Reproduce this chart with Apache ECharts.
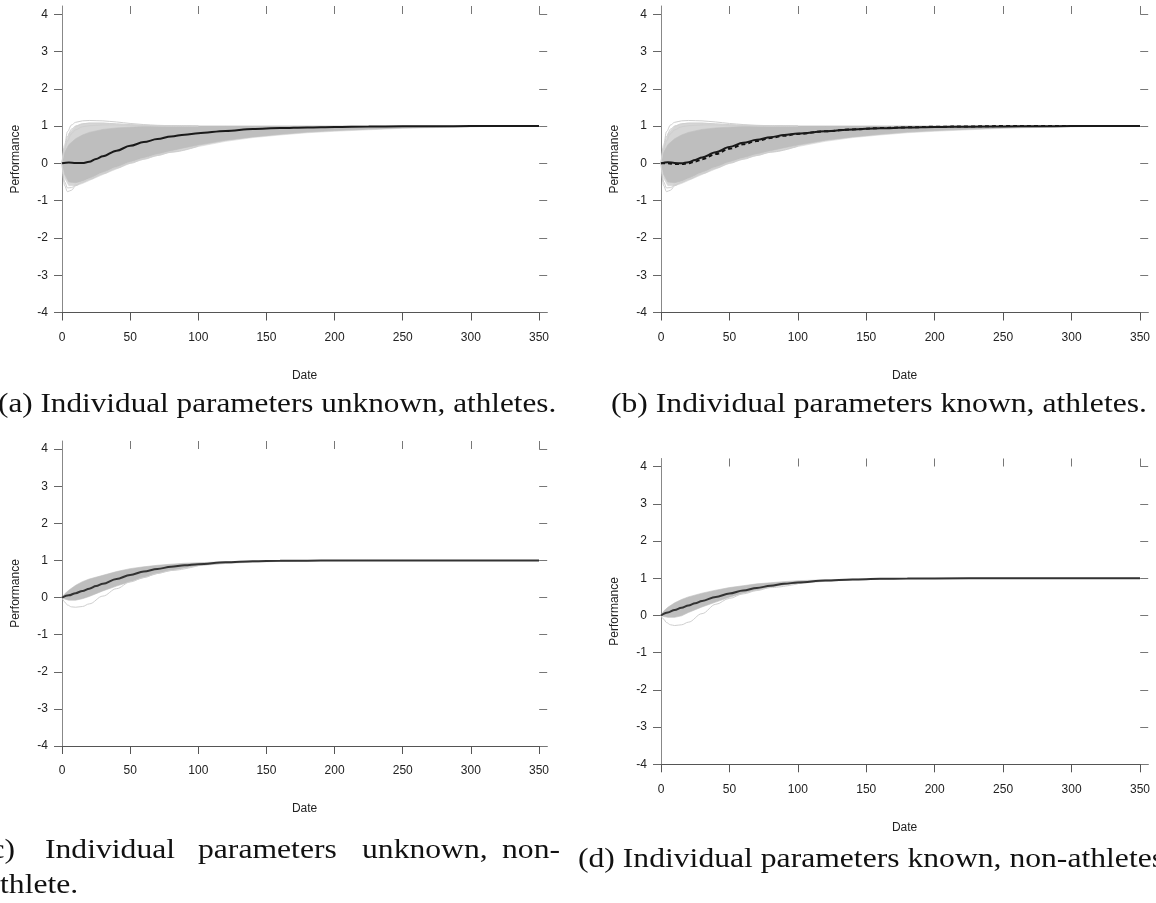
<!DOCTYPE html>
<html><head><meta charset="utf-8">
<script src="https://cdn.jsdelivr.net/npm/echarts@6/dist/echarts.min.js"></script>
<style>html,body{margin:0;padding:0;background:#fff;overflow:hidden}#c{width:1156px;height:903px}</style>
</head><body><div id="c"></div><script>
// ---- tick labels ----
const X_TICKS = [0, 50, 100, 150, 200, 250, 300, 350];
const X_TOP_TICKS = [50, 100, 150, 200, 250, 300, 350];
const Y_TICKS = [-4, -3, -2, -1, 0, 1, 2, 3, 4];

// ---- band sample dates ----
const X_BAND = [0,2,5,10,15,20,30,40,50,60,70,80,90,100,120,140,160,180,200,225,250,275,300,325,350];
// athletes (panels a, b): envelope of the simulated individual curves
const ATH_OUTER_UP = [0,0.4,0.8,1.0,1.06,1.08,1.08,1.05,1.03,1.01,1.005,1.0,1,1,1,1,1,1,1,1,1,1,1,1,1];
const ATH_OUTER_LO = [0,-0.4,-0.6,-0.6,-0.54,-0.46,-0.3,-0.15,0.0,0.11,0.21,0.3,0.38,0.45,0.59,0.69,0.76,0.82,0.86,0.9,0.94,0.96,0.98,0.99,1.0];
const ATH_INNER_UP = [0,0.3,0.5,0.66,0.76,0.83,0.91,0.95,0.97,0.985,0.993,0.997,1,1,1,1,1,1,1,1,1,1,1,1,1];
const ATH_INNER_LO = [0,-0.3,-0.5,-0.52,-0.47,-0.4,-0.24,-0.1,0.04,0.15,0.25,0.34,0.42,0.49,0.62,0.71,0.78,0.84,0.88,0.92,0.95,0.97,0.985,0.995,1.0];
// non-athletes (panels c, d)
const NON_C_UP = [0,0.1,0.2,0.33,0.43,0.5,0.6,0.7,0.78,0.83,0.87,0.9,0.925,0.94,0.965,0.98,0.99,0.995,1,1,1,1,1,1,1];
const NON_C_LO = [0,-0.04,-0.07,-0.07,-0.03,0.03,0.18,0.31,0.43,0.54,0.65,0.73,0.8,0.86,0.92,0.955,0.975,0.99,0.995,1,1,1,1,1,1];
const NON_D_UP = [0,0.12,0.22,0.34,0.43,0.5,0.6,0.68,0.75,0.8,0.85,0.88,0.91,0.935,0.96,0.978,0.99,0.995,1,1,1,1,1,1,1];
const NON_D_LO = [0,-0.03,-0.05,-0.05,-0.01,0.08,0.23,0.36,0.49,0.6,0.68,0.76,0.82,0.86,0.92,0.955,0.975,0.99,0.995,1,1,1,1,1,1];

// ---- a few distinct individual curves outside the dense band ----
const X_OUT = [0,2,4,7,10,15,20,30,40,50,60,70,80,100];
const ATH_TOP1 = [0,0.5,0.85,1.03,1.1,1.14,1.15,1.14,1.11,1.07,1.04,1.02,1.01,1.0];
const ATH_TOP2 = [0,0.42,0.72,0.92,1.0,1.06,1.08,1.08,1.06,1.04,1.02,1.01,1.0,1.0];
const ATH_TOP3 = [0,0.35,0.6,0.8,0.9,0.98,1.01,1.03,1.03,1.02,1.01,1.0,1.0,1.0];
const ATH_LOW1 = [0,-0.6,-0.76,-0.72,-0.6,-0.5,-0.42,-0.26,-0.11,0.02,0.13,0.23,0.31,0.47];
const ATH_LOW2 = [0,-0.5,-0.66,-0.65,-0.58,-0.5,-0.43,-0.28,-0.13,0.0,0.11,0.21,0.3,0.46];
const NON_C_LOW = [0,-0.12,-0.2,-0.25,-0.26,-0.24,-0.17,0.04,0.24,0.42,0.54,0.65,0.73,0.86];
const NON_D_LOW = [0,-0.1,-0.19,-0.25,-0.27,-0.25,-0.18,0.05,0.3,0.46,0.58,0.67,0.75,0.85];

// ---- mean / reference curves ----
const X_MEAN_ATH = [0,5,10,15,20,25,30,40,50,60,70,80,90,100,120,140,160,180,200,225,250,275,300,350];
const MEAN_A = [0,0.02,0.01,0.01,0.04,0.12,0.19,0.34,0.47,0.57,0.65,0.72,0.77,0.81,0.87,0.92,0.945,0.962,0.975,0.985,0.992,0.996,0.999,1.0];
const MEAN_B = [0,0.03,0.01,0.0,0.03,0.09,0.16,0.3,0.44,0.55,0.63,0.7,0.76,0.8,0.86,0.91,0.94,0.96,0.973,0.984,0.991,0.995,0.999,1.0];
const TRUE_B = [0,0.0,-0.02,-0.02,0.0,0.05,0.11,0.25,0.39,0.51,0.6,0.68,0.74,0.79,0.86,0.91,0.945,0.965,0.98,0.99,1.0,1.0,1.0,1.0];
const X_MEAN_NON = [0,5,10,15,20,25,30,40,50,60,70,80,90,100,120,140,160,180,200,250,300,350];
const MEAN_C = [0,0.06,0.12,0.18,0.24,0.31,0.37,0.5,0.61,0.7,0.77,0.83,0.87,0.9,0.95,0.98,0.99,0.995,1,1,1,1];
const MEAN_D = [0,0.08,0.15,0.21,0.27,0.33,0.39,0.5,0.59,0.67,0.74,0.8,0.85,0.89,0.94,0.97,0.985,0.993,0.997,1,1,1];

// ---- captions ----
const CAP_A = '(a) Individual parameters unknown, athletes.';
const CAP_B = '(b) Individual parameters known, athletes.';
const CAP_C1 = ['(c)', 'Individual', 'parameters', 'unknown,', 'non-'];
const CAP_C2 = 'athlete.';
const CAP_D = '(d) Individual parameters known, non-athletes.';

// ================= build =================
const pts = (xs, ys) => xs.map((x, i) => [x, ys[i]]);
const SANS = 'Liberation Sans, Arial, sans-serif';
const SERIF = 'Liberation Serif, Times New Roman, serif';

const PANELS = [
  {left: 62,  top: 6.0,   w: 485.2, h: 306.5},
  {left: 661, top: 6.0,   w: 487.2, h: 306.5},
  {left: 62,  top: 441.0, w: 485.2, h: 305.0},
  {left: 661, top: 458.5, w: 487.2, h: 305.8}
];

const grid = [], xAxis = [], yAxis = [], series = [];
PANELS.forEach((p, i) => {
  grid.push({left: p.left, top: p.top, width: p.w, height: p.h, containLabel: false});
  xAxis.push({
    gridIndex: i, type: 'value', min: 0, max: 356, position: 'bottom',
    axisLine: {show: true, onZero: false, lineStyle: {color: '#555', width: 1}},
    axisTick: {show: true, inside: false, length: 8, customValues: X_TICKS, lineStyle: {color: '#555'}},
    axisLabel: {show: true, customValues: X_TICKS, margin: 19, color: '#222', fontSize: 12, fontFamily: SANS},
    splitLine: {show: false},
    name: 'Date', nameLocation: 'middle', nameGap: 57,
    nameTextStyle: {color: '#222', fontSize: 12, fontFamily: SANS}
  });
  xAxis.push({
    gridIndex: i, type: 'value', min: 0, max: 356, position: 'top',
    axisLine: {show: false, onZero: false},
    axisTick: {show: true, inside: true, length: 8, customValues: X_TOP_TICKS, lineStyle: {color: '#777'}},
    axisLabel: {show: false}, splitLine: {show: false}
  });
  yAxis.push({
    gridIndex: i, type: 'value', min: -4, max: 4.22, position: 'left',
    axisLine: {show: true, onZero: false, lineStyle: {color: '#888', width: 1}},
    axisTick: {show: true, inside: false, length: 8, customValues: Y_TICKS, lineStyle: {color: '#666'}},
    axisLabel: {show: true, customValues: Y_TICKS, margin: 14, color: '#222', fontSize: 12, fontFamily: SANS},
    splitLine: {show: false},
    name: 'Performance', nameLocation: 'middle', nameGap: 40, nameRotate: 90,
    nameTextStyle: {color: '#222', fontSize: 12, fontFamily: SANS}
  });
  yAxis.push({
    gridIndex: i, type: 'value', min: -4, max: 4.22, position: 'right',
    axisLine: {show: false, onZero: false},
    axisTick: {show: true, inside: true, length: 8, customValues: Y_TICKS, lineStyle: {color: '#777'}},
    axisLabel: {show: false}, splitLine: {show: false}
  });
});

// filled envelope between lower and upper bound, positioned through the axes' scales
function band(i, xs, up, lo, color) {
  const data = xs.map((x, k) => [x, lo[k], up[k]]);
  series.push({
    type: 'custom', xAxisIndex: 2 * i, yAxisIndex: 2 * i, silent: true, animation: false,
    data: data, encode: {x: 0, y: [1, 2]},
    renderItem: (params, api) => {
      if (params.dataIndex !== 0) return null;
      const topPts = data.map(d => api.coord([d[0], d[2]]));
      const botPts = data.slice().reverse().map(d => api.coord([d[0], d[1]]));
      return {type: 'polygon', shape: {points: topPts.concat(botPts)},
        style: {fill: color, stroke: color, lineWidth: 0.6}};
    }
  });
}
function line(i, xs, ys, color, width, type) {
  series.push({type: 'line', xAxisIndex: 2 * i, yAxisIndex: 2 * i, data: pts(xs, ys), symbol: 'none',
    showSymbol: false, smooth: 0.35, smoothMonotone: 'x', silent: true, animation: false,
    lineStyle: {color: color, width: width, type: type || 'solid'}});
}

const OUTER = '#d6d6d6', INNER = '#bebebe', INDIV = '#cfcfcf';
// (a)
band(0, X_BAND, ATH_OUTER_UP, ATH_OUTER_LO, OUTER);
[ATH_TOP1, ATH_TOP2, ATH_TOP3, ATH_LOW1, ATH_LOW2].forEach(v => line(0, X_OUT, v, INDIV, 1));
band(0, X_BAND, ATH_INNER_UP, ATH_INNER_LO, INNER);
line(0, X_MEAN_ATH, MEAN_A, '#1a1a1a', 2);
// (b)
band(1, X_BAND, ATH_OUTER_UP, ATH_OUTER_LO, OUTER);
[ATH_TOP1, ATH_TOP2, ATH_TOP3, ATH_LOW1, ATH_LOW2].forEach(v => line(1, X_OUT, v, INDIV, 1));
band(1, X_BAND, ATH_INNER_UP, ATH_INNER_LO, INNER);
line(1, X_MEAN_ATH, TRUE_B, '#111', 2, [4, 3]);
line(1, X_MEAN_ATH, MEAN_B, '#1a1a1a', 2);
// (c)
line(2, X_OUT, NON_C_LOW, INDIV, 1);
band(2, X_BAND, NON_C_UP, NON_C_LO, INNER);
line(2, X_MEAN_NON, MEAN_C, '#333', 2);
// (d)
line(3, X_OUT, NON_D_LOW, INDIV, 1);
band(3, X_BAND, NON_D_UP, NON_D_LO, INNER);
line(3, X_MEAN_NON, MEAN_D, '#333', 2);

const capFont = '28px ' + SERIF;
function cap(text, x, y, sx) {
  return {type: 'text', x: x, y: y, scaleX: sx || 1.13, silent: true,
    style: {text: text, font: capFont, fill: '#111', textVerticalAlign: 'middle'}};
}
const CAP_C1_X = [-20, 45, 198, 362, 502];
const graphic = [
  cap(CAP_A, -2, 405, 1.115),
  cap(CAP_B, 611, 405),
  cap(CAP_D, 578, 860),
  cap(CAP_C2, -14, 886)
].concat(CAP_C1.map((w, k) => cap(w, CAP_C1_X[k], 851)));

const chart = echarts.init(document.getElementById('c'), null, {renderer: 'canvas'});
chart.setOption({animation: false, backgroundColor: '#fff', grid, xAxis, yAxis, series, graphic});
</script></body></html>
